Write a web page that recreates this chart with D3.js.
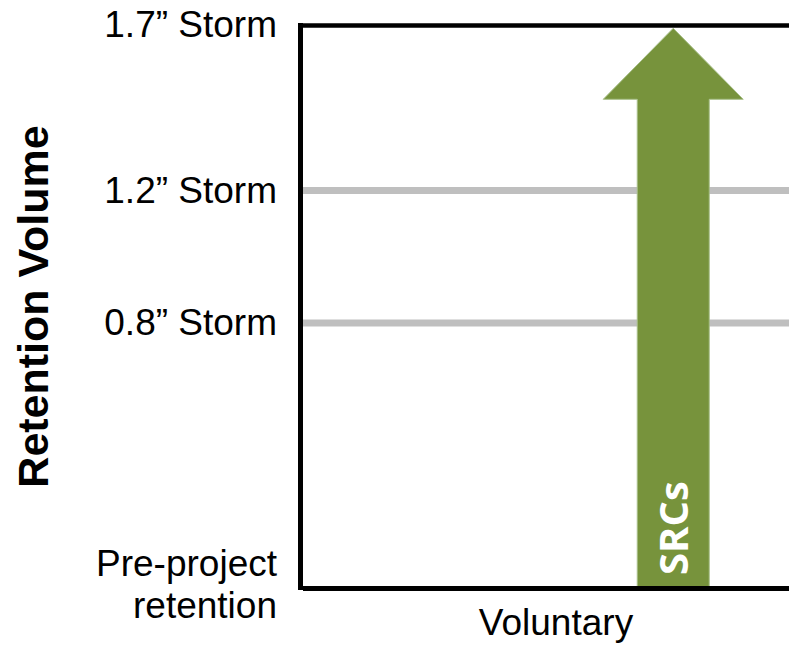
<!DOCTYPE html>
<html>
<head>
<meta charset="utf-8">
<script src="https://cdn.jsdelivr.net/npm/d3@7"></script>
<style>
  body { margin: 0; background: #fff; }
  svg text { font-family: 'Liberation Sans', Arial, sans-serif; }
</style>
</head>
<body>
<div id="chart"></div>
<script>
// storm levels on the y axis (inches of rain), 0 = pre-project retention
var levels = [0, 0.8, 1.2, 1.7];
var levelLabels = ['Pre-project|retention', '0.8\u201d Storm', '1.2\u201d Storm', '1.7\u201d Storm'];
var gridLevels = [0.8, 1.2];
var categories = ['Voluntary'];
// arrow: where it starts, where it points to, and where it sits across the plot
var arrowFrom = [0];
var arrowTo = [1.69];
var arrowPos = [0.729];
var arrowLabels = ['SRCs'];

var width = 789, height = 646;
var margin = { top: 25, right: -23, bottom: 58, left: 300 };

var svg = d3.select('#chart')
  .append('svg')
  .attr('width', width)
  .attr('height', height);

var y = d3.scaleLinear()
  .domain([0, 1.7])
  .range([height - margin.bottom, margin.top]);

var x = d3.scaleLinear()
  .domain([0, 1])
  .range([margin.left, width - margin.right]);

var xBand = d3.scaleBand()
  .domain(categories)
  .range([margin.left, width - margin.right]);

// gridlines
svg.selectAll('.grid')
  .data(gridLevels)
  .enter().append('line')
  .attr('class', 'grid')
  .attr('x1', margin.left + 3)
  .attr('x2', width)
  .attr('y1', function(d) { return y(d); })
  .attr('y2', function(d) { return y(d); })
  .style('stroke', '#bfbfbf')
  .style('stroke-width', 7);

// top frame line
svg.append('line')
  .attr('x1', margin.left - 2)
  .attr('x2', width)
  .attr('y1', y(1.7) + 0.5)
  .attr('y2', y(1.7) + 0.5)
  .style('stroke', '#000')
  .style('stroke-width', 4.5);

// arrow
var headHalf = 70, shaftHalf = 36, headLen = 71;
svg.selectAll('.arrow')
  .data(arrowFrom.map(function(d, i) {
    return { from: d, to: arrowTo[i], pos: arrowPos[i], label: arrowLabels[i] };
  }))
  .enter().append('path')
  .attr('class', 'arrow')
  .attr('d', function(d) {
    var cx = x(d.pos), top = y(d.to), bot = y(d.from);
    return 'M' + (cx - shaftHalf) + ',' + bot +
      'L' + (cx - shaftHalf) + ',' + (top + headLen) +
      'L' + (cx - headHalf) + ',' + (top + headLen) +
      'L' + cx + ',' + top +
      'L' + (cx + headHalf) + ',' + (top + headLen) +
      'L' + (cx + shaftHalf) + ',' + (top + headLen) +
      'L' + (cx + shaftHalf) + ',' + bot + 'Z';
  })
  .style('fill', '#77933c')
  .style('stroke', '#a9c08a')
  .style('stroke-width', 1);

svg.selectAll('.arrow-label')
  .data(arrowLabels)
  .enter().append('text')
  .attr('class', 'arrow-label')
  .attr('transform', function(d, i) {
    return 'translate(' + x(arrowPos[i]) + ',' + (y(arrowFrom[i]) - 60) + ') rotate(-90)';
  })
  .attr('text-anchor', 'middle')
  .attr('dy', '0.36em')
  .style('font-family', "'Open Sans', sans-serif")
  .style('font-weight', 'bold')
  .style('font-size', '40px')
  .style('fill', '#fff')
  .text(function(d) { return d; });

// y axis
var yAxis = svg.append('g')
  .attr('transform', 'translate(' + margin.left + ',0)')
  .call(d3.axisLeft(y).tickValues(levels).tickSize(0).tickPadding(23)
    .tickFormat(function(d, i) { return levelLabels[i]; }));
yAxis.select('.domain').remove();
yAxis.selectAll('text')
  .style('font-size', '37px')
  .style('fill', '#000')
  .each(function() {
    var t = d3.select(this);
    var parts = t.text().split('|');
    if (parts.length > 1) {
      var xx = t.attr('x');
      t.text(null).attr('dy', null);
      parts.forEach(function(p, k) {
        t.append('tspan')
          .attr('x', xx)
          .attr('dy', k === 0 ? '-0.35em' : '1.15em')
          .text(p);
      });
    }
  });

// left axis line
svg.append('line')
  .attr('x1', margin.left + 0.5)
  .attr('x2', margin.left + 0.5)
  .attr('y1', y(1.7) - 2)
  .attr('y2', y(0) + 2)
  .style('stroke', '#000')
  .style('stroke-width', 5);

// bottom axis
var xAxis = svg.append('g')
  .attr('transform', 'translate(0,' + y(0) + ')')
  .call(d3.axisBottom(xBand).tickSize(0).tickPadding(21));
xAxis.select('.domain').remove();
xAxis.selectAll('text')
  .style('font-size', '37px')
  .style('fill', '#000');

svg.append('line')
  .attr('x1', margin.left + 3)
  .attr('x2', width)
  .attr('y1', y(0) + 0.5)
  .attr('y2', y(0) + 0.5)
  .style('stroke', '#000')
  .style('stroke-width', 5);

// axis title
svg.append('text')
  .attr('transform', 'translate(33,' + ((y(0) + y(1.7)) / 2) + ') rotate(-90)')
  .attr('text-anchor', 'middle')
  .attr('dy', '0.36em')
  .style('font-weight', 'bold')
  .style('font-size', '43px')
  .text('Retention Volume');
</script>
</body>
</html>
